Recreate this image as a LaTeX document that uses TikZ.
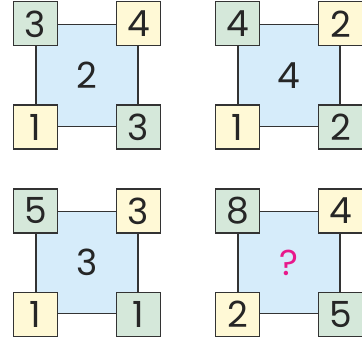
\documentclass[tikz,border=0pt]{standalone}
\usepackage{fontspec}
\setmainfont{Poppins}
\definecolor{gbox}{HTML}{D5E8DA}
\definecolor{ybox}{HTML}{FFF9D6}
\definecolor{bsq}{HTML}{D6ECFA}
\definecolor{edge}{HTML}{333333}
\definecolor{qmark}{HTML}{E8198B}
\begin{document}
\begin{tikzpicture}[x=1pt,y=1pt,
  center/.style={draw=edge,line width=1.1pt,fill=bsq,minimum size=102pt,inner sep=0pt,font=\fontsize{36}{36}\selectfont,text=black!85},
  gcell/.style={draw=edge,line width=1.1pt,fill=gbox,minimum size=44pt,inner sep=0pt,font=\fontsize{36}{36}\selectfont,text=black!85},
  ycell/.style={gcell,fill=ybox}]
\useasboundingbox (0,0) rectangle (362,-337);
\newcommand{\panel}[7]{%
  \node[center] (#1c) at (#2,#3) {#4};
  \node[gcell] (#1a) at (#1c.north west) {#5};
  \node[ycell] (#1b) at (#1c.north east) {#6};
  \node[ycell] (#1d) at (#1c.south west) {#7};
}
\panel{p}{87}{-75.5}{2}{3}{4}{1}
\node[gcell] (pe) at (pc.south east) {3};
\panel{q}{289}{-75.5}{4}{4}{2}{1}
\node[gcell] (qe) at (qc.south east) {2};
\panel{r}{87}{-262.5}{3}{5}{3}{1}
\node[gcell] (re) at (rc.south east) {1};
\panel{s}{289}{-262.5}{\textcolor{qmark}{?}}{8}{4}{2}
\node[gcell] (se) at (sc.south east) {5};
\end{tikzpicture}
\end{document}
